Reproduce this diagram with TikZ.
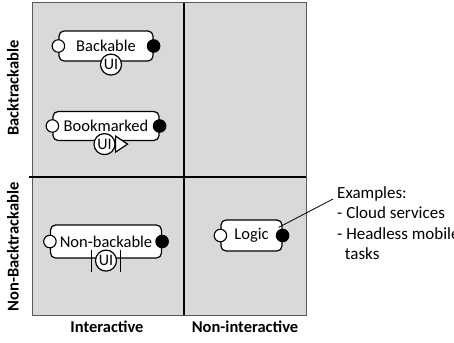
\documentclass[tikz,border=0pt]{standalone}
\usepackage{fontspec}
\setmainfont{Carlito}
\usetikzlibrary{positioning}
\tikzset{
  comp/.style={draw, line width=1.2pt, fill=white, rounded corners=5pt, inner sep=0pt, font=\fontsize{16.5}{16.5}\selectfont},
  inport/.style={circle, draw, line width=1.1pt, fill=white, minimum size=12.5pt, inner sep=0pt},
  outport/.style={circle, draw, line width=1.1pt, fill=black, minimum size=12.5pt, inner sep=0pt},
  uiport/.style={circle, draw, line width=1.2pt, fill=white, minimum size=21pt, inner sep=0pt, font=\fontsize{16}{16}\selectfont},
  axislabel/.style={font=\fontsize{16.5}{16.5}\selectfont\bfseries},
  note/.style={align=left, inner sep=0pt, font=\fontsize{17}{20.5}\selectfont}
}
\begin{document}
\begin{tikzpicture}[x=1pt,y=-1pt]
  \useasboundingbox (0,0) rectangle (454,342);
  % quadrants
  \draw[fill=black!15, draw=black!65, line width=1pt] (32,3) rectangle (306,315);
  \draw[line width=2.4pt] (184,3) -- (184,315);
  \draw[line width=2.4pt] (29,177) -- (306,177);
  % axis labels
  \node[axislabel] (inter) at (107,327) {Interactive};
  \node[axislabel] (noninter) at (245,327) {Non-interactive};
  \node[axislabel, rotate=90] (back) at (13,88) {Backtrackable};
  \node[axislabel, rotate=90] (nonback) at (13,247) {Non-Backtrackable};
  % backable
  \node[comp, minimum width=94pt, minimum height=30pt] (bk) at (106,46) {Backable};
  \node[inport] (bkin) at (bk.west) {};
  \node[outport] (bkout) at (bk.east) {};
  \node[uiport] (bkui) at ([shift={(5pt,-3pt)}]bk.south) {UI};
  % bookmarked
  \node[comp, minimum width=106pt, minimum height=29pt] (bm) at (106,126) {Bookmarked};
  \node[inport] (bmin) at (bm.west) {};
  \node[outport] (bmout) at (bm.east) {};
  \node[uiport] (bmui) at ([shift={(-1.5pt,-3pt)}]bm.south) {UI};
  \draw[line width=1.2pt, fill=white] ([yshift=8pt]bmui.east) -- ++(12pt,-8pt) -- ++(-12pt,-8pt) -- cycle;
  % non-backable
  \node[comp, minimum width=111pt, minimum height=33pt] (nb) at (106,241.5) {Non-backable};
  \node[inport] (nbin) at (nb.west) {};
  \node[outport] (nbout) at (nb.east) {};
  \node[uiport] (nbui) at ([shift={(0pt,-2pt)}]nb.south) {UI};
  \draw[line width=1.2pt] ([shift={(-14.5pt,11pt)}]nbui.center) -- ++(0,-22pt);
  \draw[line width=1.2pt] ([shift={(14.5pt,11pt)}]nbui.center) -- ++(0,-22pt);
  % logic
  \node[comp, minimum width=61pt, minimum height=31pt] (lg) at (251.5,235.5) {Logic};
  \node[inport] (lgin) at (lg.west) {};
  \node[outport] (lgout) at (lg.east) {};
  % examples
  \node[note, anchor=north west] (ex) at (337,186) {Examples:\\- Cloud services\\- Headless mobile\\\ \ tasks};
  \coordinate (exend) at (333,199);
  \draw[line width=0.8pt] ([shift={(-4pt,-8pt)}]lg.north east) -- (exend);
\end{tikzpicture}
\end{document}
